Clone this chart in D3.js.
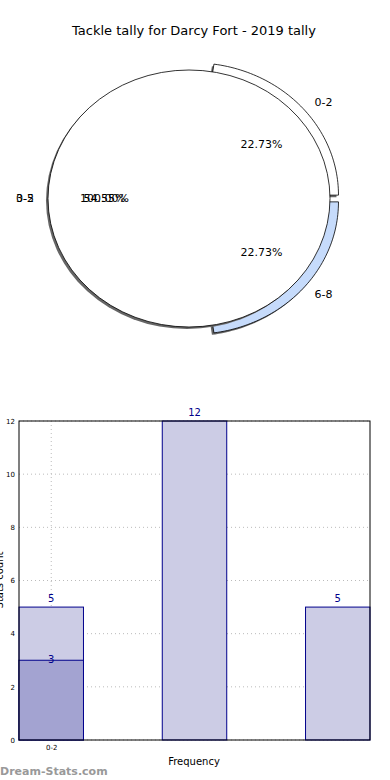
<!DOCTYPE html>
<meta charset="utf-8">
<style>
body { margin: 0; background: #fff; }
text { font-family: "DejaVu Sans", sans-serif; }
.grid line { stroke: #bbb; stroke-dasharray: 1,3; }
.axis path, .axis line { stroke: #000; }
</style>
<body>
<script src="https://d3js.org/d3.v7.min.js"></script>
<script>

// data
var pieLabels = ["0-2", "3-5", "6-8"];
var pieValues = [5, 12, 5];
var pieColors = ["#ffffff", "#ffffff", "#c6dbfb"];
var pieExplode = [0.04, 0, 0.04];

var barCats = ["0-2", "3-5", "6-8"];
var barValues = [5, 12, 5];
var barOverlay = [3];       // darker bar drawn over the first one
var yTicks = [0, 2, 4, 6, 8, 10, 12];

var W = 390, H = 780;
var svg = d3.select("body").append("svg")
    .attr("width", W)
    .attr("height", H);

// title
svg.append("text")
    .attr("x", 194).attr("y", 35)
    .attr("text-anchor", "middle")
    .style("font-size", "13px")
    .text("Tackle tally for Darcy Fort - 2019 tally");

// ---- pie (stretched to an ellipse) ----
var cx = 189, cy = 198.5, rx = 141, ry = 128.5;
var wedgeR = 1.03;
var total = d3.sum(pieValues);

// angles counter-clockwise from east, like matplotlib
var slices = [];
var a0 = 0;
pieValues.forEach(function(v, i) {
  var a1 = a0 + v / total * 2 * Math.PI;
  slices.push({label: pieLabels[i], value: v, a0: a0, a1: a1, i: i});
  a0 = a1;
});

function wedgePath(s, ex, dx, dy) {
  var mid = (s.a0 + s.a1) / 2;
  var ox = ex * Math.cos(mid), oy = ex * Math.sin(mid);
  var pts = [[ox, oy]];
  var n = 60;
  for (var k = 0; k <= n; k++) {
    var a = s.a0 + (s.a1 - s.a0) * k / n;
    pts.push([ox + wedgeR * Math.cos(a), oy + wedgeR * Math.sin(a)]);
  }
  var line = d3.line()
      .x(function(p) { return cx + rx * p[0] + (dx || 0); })
      .y(function(p) { return cy - ry * p[1] + (dy || 0); });
  return line(pts) + "Z";
}

var pieG = svg.append("g");

// exploded wedges with shadows
slices.forEach(function(s) {
  if (!pieExplode[s.i]) return;
  pieG.append("path")
      .attr("d", wedgePath(s, pieExplode[s.i], -2, 2))
      .attr("fill", "#666");
  pieG.append("path")
      .attr("d", wedgePath(s, pieExplode[s.i]))
      .attr("fill", pieColors[s.i])
      .attr("stroke", "#000")
      .attr("stroke-width", 0.8);
});

// full ellipse on top, with shadow
pieG.append("ellipse")
    .attr("cx", cx - 2).attr("cy", cy + 2)
    .attr("rx", rx).attr("ry", ry)
    .attr("fill", "#666");
pieG.append("ellipse")
    .attr("cx", cx).attr("cy", cy)
    .attr("rx", rx).attr("ry", ry)
    .attr("fill", "#fff")
    .attr("stroke", "#000")
    .attr("stroke-width", 0.8);

// labels and percents
slices.forEach(function(s) {
  var mid = (s.a0 + s.a1) / 2;
  var ex = pieExplode[s.i];
  var lx = cx + rx * (1.1 + ex) * Math.cos(mid) + (Math.cos(mid) > 0 ? 4 : 0);
  var ly = cy - ry * (1.1 + ex) * Math.sin(mid);
  pieG.append("text")
      .attr("x", lx).attr("y", ly)
      .attr("dy", "0.35em")
      .attr("text-anchor", Math.cos(mid) > 0 ? "start" : "end")
      .style("font-size", "11px")
      .text(s.label);
  var px = cx + rx * (0.6 + 2 * ex) * Math.cos(mid);
  var py = cy - ry * (0.6 + ex) * Math.sin(mid);
  pieG.append("text")
      .attr("x", px).attr("y", py)
      .attr("dy", "0.35em")
      .attr("text-anchor", "middle")
      .style("font-size", "11px")
      .text((s.value / total * 100).toFixed(2) + "%");
});
// the whole-ellipse wedge label overlapping on the left
pieG.append("text")
    .attr("x", cx - rx * 1.1).attr("y", cy).attr("dy", "0.35em")
    .attr("text-anchor", "end").style("font-size", "11px")
    .text(pieLabels[0]);
pieG.append("text")
    .attr("x", cx - rx * 0.6).attr("y", cy).attr("dy", "0.35em")
    .attr("text-anchor", "middle").style("font-size", "11px")
    .text("100.00%");

// ---- bar chart ----
var bx0 = 19, bx1 = 370, by0 = 421, by1 = 740;
var bw = 0.45;
var x = d3.scaleLinear().domain([-bw / 2, barCats.length - 1 + bw / 2]).range([bx0, bx1]);
var y = d3.scaleLinear().domain([0, 12]).range([by1, by0]);

var g = svg.append("g");

// grid
g.append("g").attr("class", "grid")
  .selectAll("line").data(yTicks).enter().append("line")
    .attr("x1", bx0).attr("x2", bx1)
    .attr("y1", function(d) { return y(d); })
    .attr("y2", function(d) { return y(d); });
g.append("g").attr("class", "grid")
  .append("line")
    .attr("x1", x(0)).attr("x2", x(0))
    .attr("y1", by0).attr("y2", by1);

// bars
g.selectAll(".bar").data(barValues).enter().append("rect")
    .attr("class", "bar")
    .attr("x", function(d, i) { return x(i - bw / 2); })
    .attr("width", x(bw) - x(0))
    .attr("y", function(d) { return y(d); })
    .attr("height", function(d) { return by1 - y(d); })
    .attr("fill", "#ccccE5")
    .attr("stroke", "#00008b")
    .attr("stroke-width", 1);

g.selectAll(".bar2").data(barOverlay).enter().append("rect")
    .attr("class", "bar2")
    .attr("x", function(d, i) { return x(i - bw / 2); })
    .attr("width", x(bw) - x(0))
    .attr("y", function(d) { return y(d); })
    .attr("height", function(d) { return by1 - y(d); })
    .attr("fill", "#a3a3d1")
    .attr("stroke", "#00008b")
    .attr("stroke-width", 1);

// value labels
g.selectAll(".vl").data(barValues).enter().append("text")
    .attr("x", function(d, i) { return x(i); })
    .attr("y", function(d) { return y(d) - 5; })
    .attr("text-anchor", "middle")
    .attr("fill", "#00008b")
    .style("font-size", "10px")
    .text(function(d) { return d; });
g.selectAll(".vl2").data(barOverlay).enter().append("text")
    .attr("x", function(d, i) { return x(i); })
    .attr("y", function(d) { return y(d) + 3; })
    .attr("text-anchor", "middle")
    .attr("fill", "#00008b")
    .style("font-size", "10px")
    .text(function(d) { return d; });

// frame
g.append("rect")
    .attr("x", bx0).attr("y", by0)
    .attr("width", bx1 - bx0).attr("height", by1 - by0)
    .attr("fill", "none").attr("stroke", "#000");

// y axis ticks
var yAxis = d3.axisLeft(y).tickValues(yTicks).tickSize(0).tickPadding(4);
g.append("g").attr("class", "axis")
    .attr("transform", "translate(" + bx0 + ",0)")
    .call(yAxis)
    .call(function(s) { s.select(".domain").remove(); })
    .selectAll("text").style("font-size", "7px").style("font-family", "DejaVu Sans");

// x axis tick (only first category labelled)
var xAxis = d3.axisBottom(x).tickValues([0]).tickFormat(function(d) { return barCats[d]; })
    .tickSize(0).tickPadding(5);
g.append("g").attr("class", "axis")
    .attr("transform", "translate(0," + by1 + ")")
    .call(xAxis)
    .call(function(s) { s.select(".domain").remove(); })
    .selectAll("text").style("font-size", "7px").style("font-family", "DejaVu Sans");

// axis titles
g.append("text")
    .attr("x", 194).attr("y", 765)
    .attr("text-anchor", "middle")
    .style("font-size", "10px")
    .text("Frequency");
g.append("text")
    .attr("transform", "translate(3,580) rotate(-90)")
    .attr("text-anchor", "middle")
    .style("font-size", "10px")
    .text("Stats count");

// watermark
svg.append("text")
    .attr("x", 0).attr("y", 775)
    .attr("fill", "#999")
    .style("font-size", "11px")
    .style("font-weight", "bold")
    .text("Dream-Stats.com");

</script>
</body>
